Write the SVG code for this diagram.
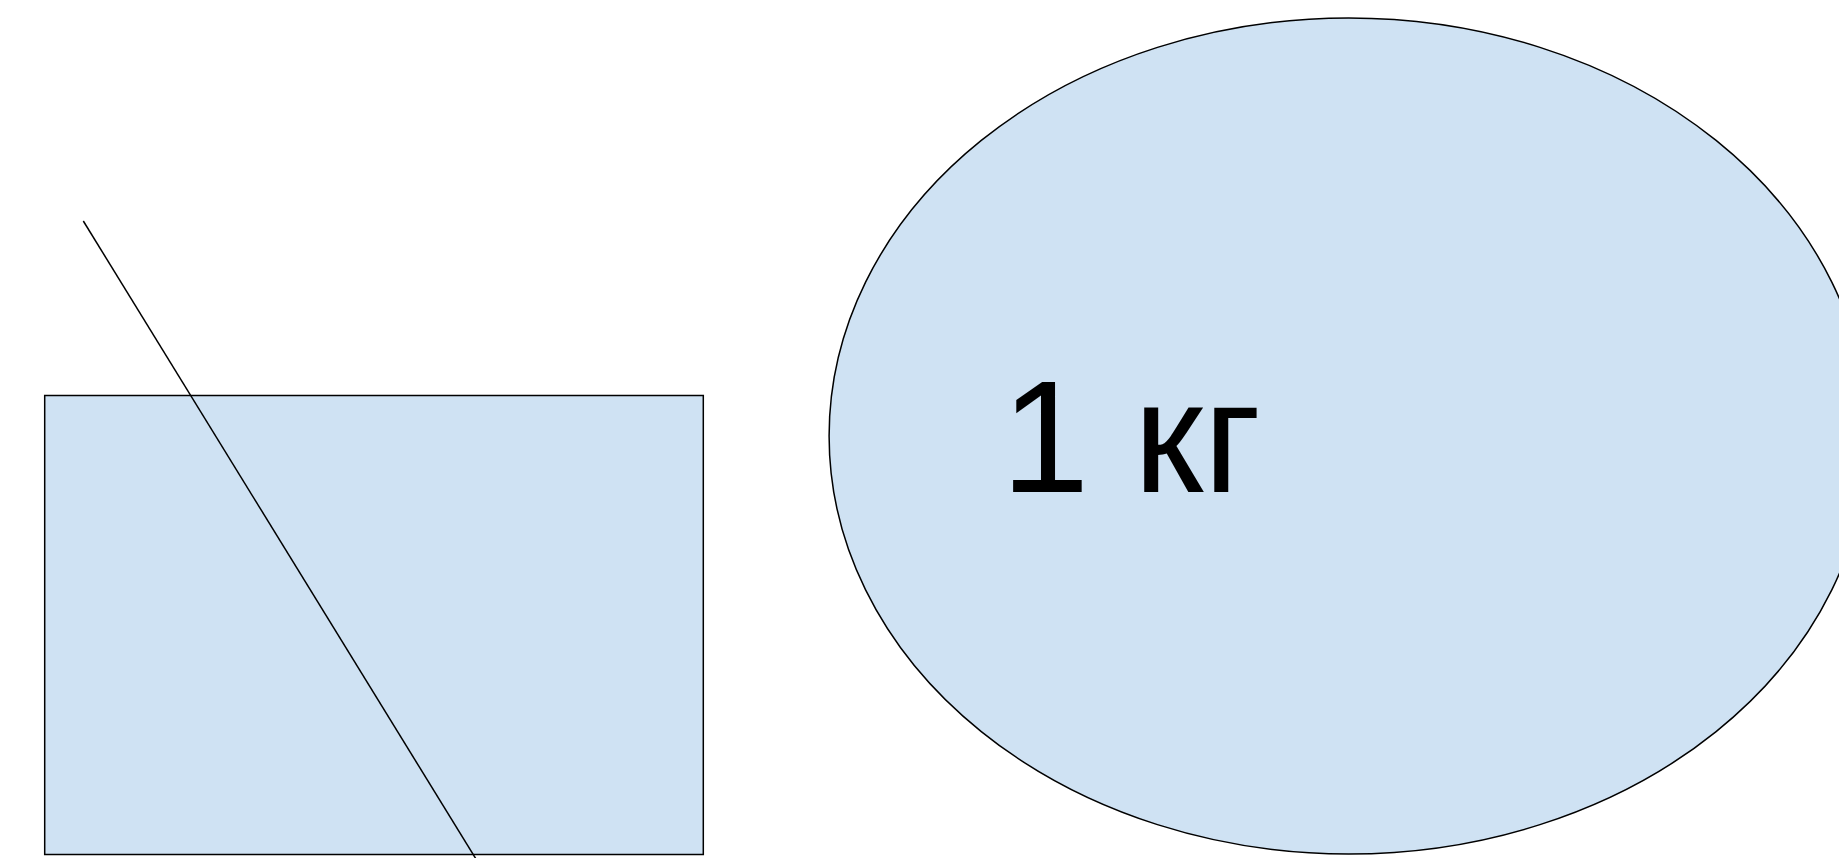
<svg xmlns="http://www.w3.org/2000/svg" width="1839" height="858" viewBox="0 0 1839 858">
<style>
.shape{fill:#cfe2f3;stroke:#000;stroke-width:1.5}
.conn{stroke:#000;stroke-width:1.5;fill:none}
.lbl{font-family:"Liberation Sans",Arial,sans-serif;font-size:159px;fill:#000}
</style>
<rect width="1839" height="858" fill="#fff"/>
<g id="rect-node"><rect class="shape" x="44.7" y="395.5" width="658.6" height="459"/></g>
<g id="ellipse-node"><ellipse class="shape" cx="1348.7" cy="436" rx="519.6" ry="418"/><text class="lbl" x="1001" y="492">1 кг</text></g>
<g id="connectors"><line class="conn" x1="83.3" y1="221" x2="476" y2="859"/></g>
</svg>
